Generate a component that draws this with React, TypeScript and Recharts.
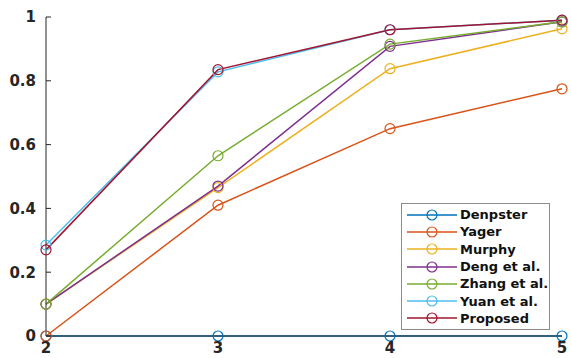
import { Line, LineChart, XAxis, YAxis } from "recharts";

const xs = [2, 3, 4, 5];
const denpster = [0, 0, 0, 0];
const yager = [0, 0.41, 0.65, 0.775];
const murphy = [0.1, 0.465, 0.838, 0.963];
const deng = [0.1, 0.47, 0.908, 0.985];
const zhang = [0.1, 0.565, 0.915, 0.985];
const yuan = [0.285, 0.828, 0.96, 0.99];
const proposed = [0.27, 0.835, 0.96, 0.99];
const yTicks = [0, 0.2, 0.4, 0.6, 0.8, 1];

const series = [
    { key: "Denpster", values: denpster, color: "#0072BD" },
    { key: "Yager", values: yager, color: "#D95319" },
    { key: "Murphy", values: murphy, color: "#EDB120" },
    { key: "Deng et al.", values: deng, color: "#7E2F8E" },
    { key: "Zhang et al.", values: zhang, color: "#77AC30" },
    { key: "Yuan et al.", values: yuan, color: "#4DBEEE" },
    { key: "Proposed", values: proposed, color: "#A2142F" },
];

const data = xs.map((x, i) => {
    const row: Record<string, number> = { x };
    series.forEach((s) => (row[s.key] = s.values[i]));
    return row;
});

const font = "'DejaVu Sans', sans-serif";

function YTick(props: any) {
    const { x, y, payload } = props;
    return (
        <g>
            <line x1={x + 10} x2={x + 15} y1={y} y2={y} stroke="#262626" />
            <text x={x} y={y} dy="0.36em" textAnchor="end" fill="#262626"
                fontSize={15} fontWeight="bold" fontFamily={font}>
                {String(payload.value)}
            </text>
        </g>
    );
}

// legend drawn as an overlay so it doesn't eat plot space
function LegendBox() {
    return (
        <div style={{
            position: "absolute",
            left: 401,
            top: 203,
            border: "1px solid #8c8c8c",
            background: "#fff",
            padding: "2px 4px 2px 4px",
            width: 139,
            fontFamily: font,
            fontWeight: "bold",
            fontSize: 13,
            color: "#111",
        }}>
            {series.map((s) => (
                <div key={s.key} style={{ display: "flex", alignItems: "center", height: 17.3 }}>
                    <svg width={52} height={12} style={{ flexShrink: 0 }}>
                        <line x1={1} x2={51} y1={6} y2={6} stroke={s.color} strokeWidth={1.5} />
                        <circle cx={26} cy={6} r={5} fill="none" stroke={s.color} strokeWidth={1.2} />
                    </svg>
                    <span style={{ marginLeft: 2, whiteSpace: "nowrap" }}>{s.key}</span>
                </div>
            ))}
        </div>
    );
}

export default function App() {
    return (
        <div style={{ position: "absolute", left: 0, top: 0, width: 571, height: 358, background: "#fff", overflow: "hidden" }}>
            <LineChart width={571} height={358} data={data}
                margin={{ top: 17, right: 9, left: 0, bottom: 0 }}>
                <XAxis
                    dataKey="x"
                    type="number"
                    domain={[2, 5]}
                    ticks={xs}
                    height={22}
                    tickSize={0}
                    tickMargin={6}
                    stroke="#262626"
                    tick={{ fill: "#262626", fontSize: 15, fontWeight: "bold", fontFamily: font }} />
                <YAxis
                    type="number"
                    domain={[0, 1]}
                    ticks={yTicks}
                    width={46}
                    tickSize={0}
                    tickMargin={10}
                    stroke="#262626"
                    tick={<YTick />} />
                {series.map((s) => (
                    <Line
                        key={s.key}
                        dataKey={s.key}
                        stroke={s.color}
                        strokeWidth={1.5}
                        dot={{ r: 5, fill: "none", stroke: s.color, strokeWidth: 1.2 }}
                        activeDot={false}
                        isAnimationActive={false} />
                ))}
            </LineChart>
            <LegendBox />
        </div>
    );
}
